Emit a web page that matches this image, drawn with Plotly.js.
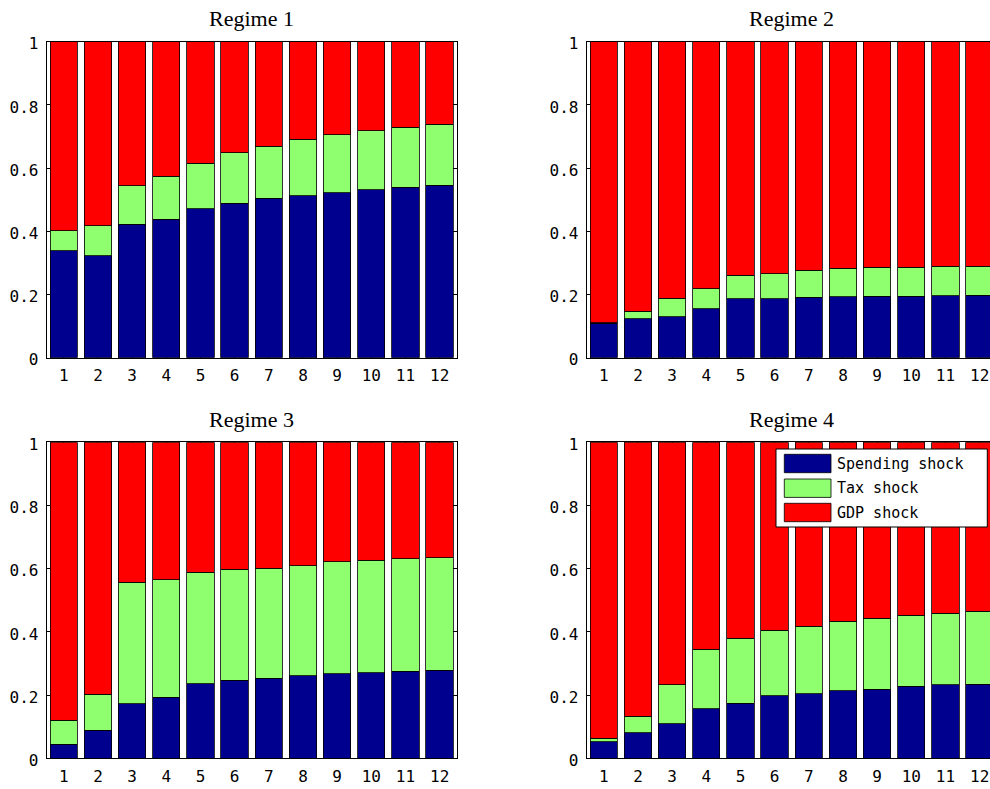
<!DOCTYPE html>
<html>
<head>
<meta charset="utf-8">
<script src="https://cdn.plot.ly/plotly-3.0.1.min.js"></script>
<style>
  html, body { margin: 0; padding: 0; overflow: hidden; background: #fff; }
  #chart { width: 1000px; height: 789px; }
</style>
</head>
<body>
<div id="chart"></div>
<script>
// Forecast horizons (x categories)
const horizons = [1, 2, 3, 4, 5, 6, 7, 8, 9, 10, 11, 12];
const regimeNames = ['Regime 1', 'Regime 2', 'Regime 3', 'Regime 4'];
const shockNames = ['Spending shock', 'Tax shock', 'GDP shock'];
const yTicks = [0, 0.2, 0.4, 0.6, 0.8, 1];

// Variance shares by shock, one set per regime
const spending1 = [0.339, 0.322, 0.422, 0.438, 0.472, 0.489, 0.505, 0.513, 0.522, 0.531, 0.539, 0.545];
const tax1      = [0.063, 0.095, 0.122, 0.137, 0.144, 0.159, 0.164, 0.179, 0.183, 0.187, 0.191, 0.193];
const gdp1      = [0.598, 0.583, 0.456, 0.425, 0.384, 0.352, 0.331, 0.308, 0.295, 0.282, 0.270, 0.262];

const spending2 = [0.109, 0.123, 0.130, 0.155, 0.186, 0.186, 0.192, 0.193, 0.195, 0.195, 0.196, 0.197];
const tax2      = [0.002, 0.024, 0.058, 0.064, 0.075, 0.080, 0.085, 0.090, 0.091, 0.092, 0.093, 0.093];
const gdp2      = [0.889, 0.853, 0.812, 0.781, 0.739, 0.734, 0.723, 0.717, 0.714, 0.713, 0.711, 0.710];

const spending3 = [0.044, 0.089, 0.172, 0.193, 0.236, 0.247, 0.254, 0.261, 0.268, 0.270, 0.276, 0.278];
const tax3      = [0.077, 0.114, 0.385, 0.372, 0.353, 0.352, 0.347, 0.349, 0.354, 0.356, 0.355, 0.356];
const gdp3      = [0.879, 0.797, 0.443, 0.435, 0.411, 0.401, 0.399, 0.390, 0.378, 0.374, 0.369, 0.366];

const spending4 = [0.053, 0.081, 0.110, 0.157, 0.174, 0.198, 0.205, 0.213, 0.219, 0.228, 0.232, 0.235];
const tax4      = [0.011, 0.052, 0.123, 0.188, 0.206, 0.207, 0.213, 0.221, 0.224, 0.225, 0.227, 0.230];
const gdp4      = [0.936, 0.867, 0.767, 0.655, 0.620, 0.595, 0.582, 0.566, 0.557, 0.547, 0.541, 0.535];

// ---- styling ----
const shockColors = ['rgb(0,0,143)', 'rgb(143,255,112)', 'rgb(255,0,0)'];
const tickFont = { family: 'DejaVu Sans Mono, Liberation Mono, monospace', size: 16, color: '#000' };
const legendFont = { family: 'DejaVu Sans Mono, Liberation Mono, monospace', size: 15, color: '#000' };
const titleFont = { family: 'Liberation Serif, Times New Roman, serif', size: 22, color: '#000' };

const W = 1000, H = 789;
const px = x => x / W;
const py = y => (H - y) / H;

// panel boxes in pixels: [left, right, top, bottom]
const panels = [
  [46.7, 456.7, 41.7, 357.7],
  [586.7, 996.7, 41.7, 357.7],
  [46.7, 456.7, 442.3, 758.3],
  [586.7, 996.7, 442.3, 758.3]
];

const regimeData = [
  [spending1, tax1, gdp1],
  [spending2, tax2, gdp2],
  [spending3, tax3, gdp3],
  [spending4, tax4, gdp4]
];

const traces = [];
const layout = {
  width: W, height: H,
  margin: { l: 0, r: 0, t: 0, b: 0 },
  paper_bgcolor: '#fff', plot_bgcolor: '#fff',
  barmode: 'stack',
  bargap: 0.2,
  showlegend: false,
  hovermode: false,
  annotations: [],
  shapes: []
};

regimeData.forEach((series, r) => {
  const sfx = r === 0 ? '' : String(r + 1);
  series.forEach((vals, s) => {
    traces.push({
      type: 'bar',
      name: shockNames[s],
      x: horizons,
      y: vals,
      xaxis: 'x' + sfx,
      yaxis: 'y' + sfx,
      marker: { color: shockColors[s], line: { color: '#000', width: 0.8 } }
    });
  });

  const [l, rgt, t, b] = panels[r];
  const common = {
    showline: true, linecolor: '#000', linewidth: 1, mirror: 'ticks',
    ticks: 'inside', ticklen: 5, tickcolor: '#000', tickwidth: 1,
    showgrid: false, zeroline: false, fixedrange: true,
    tickfont: tickFont, layer: 'below traces'
  };
  layout['xaxis' + sfx] = Object.assign({}, common, {
    domain: [px(l), px(rgt)], range: [0.5, 12.5],
    tickvals: horizons, anchor: 'y' + sfx,
    ticklabelstandoff: 3
  });
  layout['yaxis' + sfx] = Object.assign({}, common, {
    domain: [py(b), py(t)], range: [0, 1],
    tickvals: yTicks, anchor: 'x' + sfx,
    ticklabelstandoff: 4, ticklabelshift: 2
  });

  layout.annotations.push({
    xref: 'paper', yref: 'paper',
    x: px((l + rgt) / 2), y: py(t - 23),
    xanchor: 'center', yanchor: 'middle',
    text: regimeNames[r], showarrow: false, font: titleFont
  });
});

// Legend box in the Regime 4 panel
const legBox = [776, 987.3, 449, 527];
layout.shapes.push({
  type: 'rect', xref: 'paper', yref: 'paper', layer: 'above',
  x0: px(legBox[0]), x1: px(legBox[1]), y0: py(legBox[3]), y1: py(legBox[2]),
  fillcolor: '#fff', line: { color: '#000', width: 1 }
});
const rowTops = [454.3, 479.0, 503.3];
shockNames.forEach((name, i) => {
  const top = rowTops[i], bot = top + 18.4;
  layout.shapes.push({
    type: 'rect', xref: 'paper', yref: 'paper', layer: 'above',
    x0: px(784.3), x1: px(831), y0: py(bot), y1: py(top),
    fillcolor: shockColors[i], line: { color: '#000', width: 0.8 }
  });
  layout.annotations.push({
    xref: 'paper', yref: 'paper', x: px(835), y: py((top + bot) / 2),
    xanchor: 'left', yanchor: 'middle', showarrow: false,
    text: name, font: legendFont
  });
});

Plotly.newPlot('chart', traces, layout, { displayModeBar: false, staticPlot: true });
</script>
</body>
</html>
